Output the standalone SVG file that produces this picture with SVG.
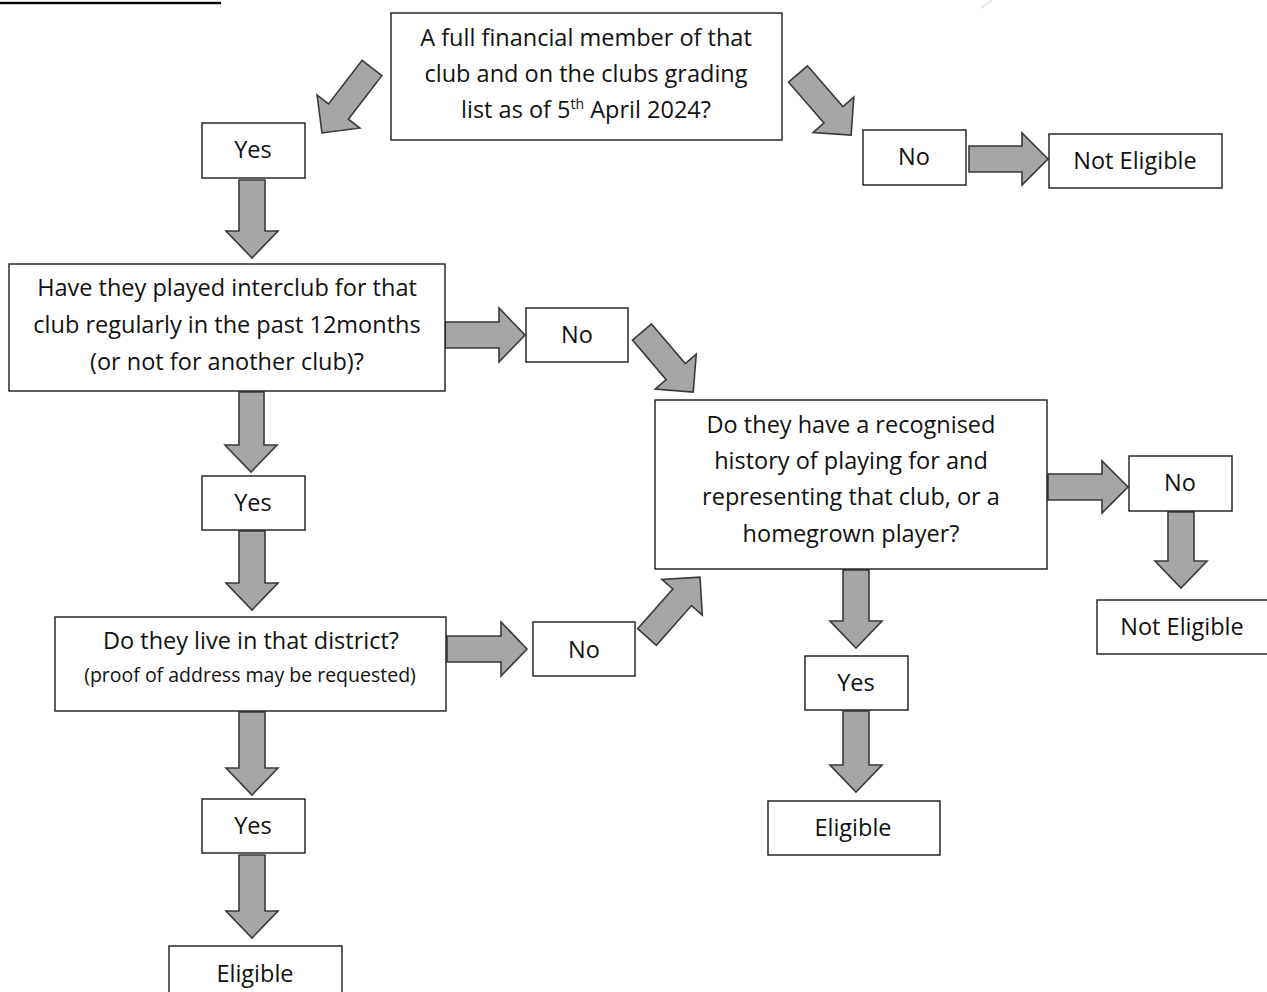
<svg xmlns="http://www.w3.org/2000/svg" width="1267" height="992" viewBox="0 0 1267 992">
<style>
.box{fill:#fff;stroke:#1a1a1a;stroke-width:1.4}
.t{font-family:"Open Sans","Liberation Sans",Arial,sans-serif;font-size:23.5px;fill:#111;text-anchor:middle}
.s{font-family:"Open Sans","Liberation Sans",Arial,sans-serif;font-size:19.5px;fill:#111;text-anchor:middle}
.arr{fill:#a6a6a6;stroke:#3a3a3a;stroke-width:1.6;stroke-linejoin:miter}
</style>
<rect x="0" y="1.8" width="221" height="2.4" fill="#000"/>
<line x1="992" y1="0" x2="981" y2="8" stroke="#e6e6e6" stroke-width="2"/>

<g id="connectors">
  <path class="arr" d="M239,180 V231 H226 L252,258 L278,231 H265 V180 Z"/>
  <path class="arr" d="M239,392 V445 H225 L251,472 L277,445 H264 V392 Z"/>
  <path class="arr" d="M239,531 V583 H226 L252,610 L278,583 H265 V531 Z"/>
  <path class="arr" d="M239,712 V768 H226 L252,795 L278,768 H265 V712 Z"/>
  <path class="arr" d="M239,855 V911 H226 L252,938 L278,911 H265 V855 Z"/>
  <path class="arr" d="M843,570 V621 H830 L856,648 L882,621 H869 V570 Z"/>
  <path class="arr" d="M843,711 V765 H830 L856,792 L882,765 H869 V711 Z"/>
  <path class="arr" d="M1168,512 V561 H1155 L1181,588 L1207,561 H1194 V512 Z"/>
  <path class="arr" d="M969,146 H1022 V133 L1048,159 L1022,185 V172 H969 Z"/>
  <path class="arr" d="M445,322 H499 V308 L525,335 L499,362 V348 H445 Z"/>
  <path class="arr" d="M447,636 H501 V622 L527,649 L501,676 V662 H447 Z"/>
  <path class="arr" d="M1048,474 H1102 V461 L1128,487 L1102,513 V500 H1048 Z"/>
  <path class="arr" transform="translate(372,68) rotate(127.6)" d="M0,-12.5 H55 V-27 L82,0 L55,27 V12.5 H0 Z"/>
  <path class="arr" transform="translate(798,74) rotate(49)" d="M0,-12.5 H54 V-27 L81,0 L54,27 V12.5 H0 Z"/>
  <path class="arr" transform="translate(642,332) rotate(49.6)" d="M0,-12.5 H52 V-27 L79,0 L52,27 V12.5 H0 Z"/>
  <path class="arr" transform="translate(647,637) rotate(-48.5)" d="M0,-12.5 H53 V-27 L80,0 L53,27 V12.5 H0 Z"/>
</g>

<g id="q1">
  <rect class="box" x="391" y="13" width="391" height="127"/>
  <text class="t" x="586" y="46">A full financial member of that</text>
  <text class="t" x="586" y="82">club and on the clubs grading</text>
  <text class="t" x="586" y="118">list as of 5<tspan font-size="14" dy="-9">th</tspan><tspan dy="9"> April 2024?</tspan></text>
</g>
<g id="yes1">
  <rect class="box" x="202" y="123" width="103" height="55"/>
  <text class="t" x="253" y="158">Yes</text>
</g>
<g id="no1">
  <rect class="box" x="863" y="130" width="103" height="55"/>
  <text class="t" x="914" y="165">No</text>
</g>
<g id="noteligible1">
  <rect class="box" x="1049" y="134" width="173" height="54"/>
  <text class="t" x="1135" y="169">Not Eligible</text>
</g>
<g id="q2">
  <rect class="box" x="9" y="264" width="436" height="127"/>
  <text class="t" x="227" y="296">Have they played interclub for that</text>
  <text class="t" x="227" y="333">club regularly in the past 12months</text>
  <text class="t" x="227" y="370">(or not for another club)?</text>
</g>
<g id="no2">
  <rect class="box" x="526" y="308" width="102" height="54"/>
  <text class="t" x="577" y="343">No</text>
</g>
<g id="yes2">
  <rect class="box" x="202" y="476" width="103" height="54"/>
  <text class="t" x="253" y="511">Yes</text>
</g>
<g id="q3">
  <rect class="box" x="55" y="617" width="391" height="94"/>
  <text class="t" x="251" y="649">Do they live in that district?</text>
  <text class="s" x="250" y="682">(proof of address may be requested)</text>
</g>
<g id="no3">
  <rect class="box" x="533" y="622" width="102" height="54"/>
  <text class="t" x="584" y="658">No</text>
</g>
<g id="yes3">
  <rect class="box" x="202" y="799" width="103" height="54"/>
  <text class="t" x="253" y="834">Yes</text>
</g>
<g id="eligible1">
  <rect class="box" x="169" y="946" width="173" height="52"/>
  <text class="t" x="255" y="982">Eligible</text>
</g>
<g id="q4">
  <rect class="box" x="655" y="400" width="392" height="169"/>
  <text class="t" x="851" y="433">Do they have a recognised</text>
  <text class="t" x="851" y="469">history of playing for and</text>
  <text class="t" x="851" y="505">representing that club, or a</text>
  <text class="t" x="851" y="542">homegrown player?</text>
</g>
<g id="no4">
  <rect class="box" x="1129" y="456" width="103" height="55"/>
  <text class="t" x="1180" y="491">No</text>
</g>
<g id="noteligible2">
  <rect class="box" x="1097" y="600" width="180" height="54"/>
  <text class="t" x="1182" y="635">Not Eligible</text>
</g>
<g id="yes4">
  <rect class="box" x="805" y="656" width="103" height="54"/>
  <text class="t" x="856" y="691">Yes</text>
</g>
<g id="eligible2">
  <rect class="box" x="768" y="801" width="172" height="54"/>
  <text class="t" x="853" y="836">Eligible</text>
</g>
</svg>
